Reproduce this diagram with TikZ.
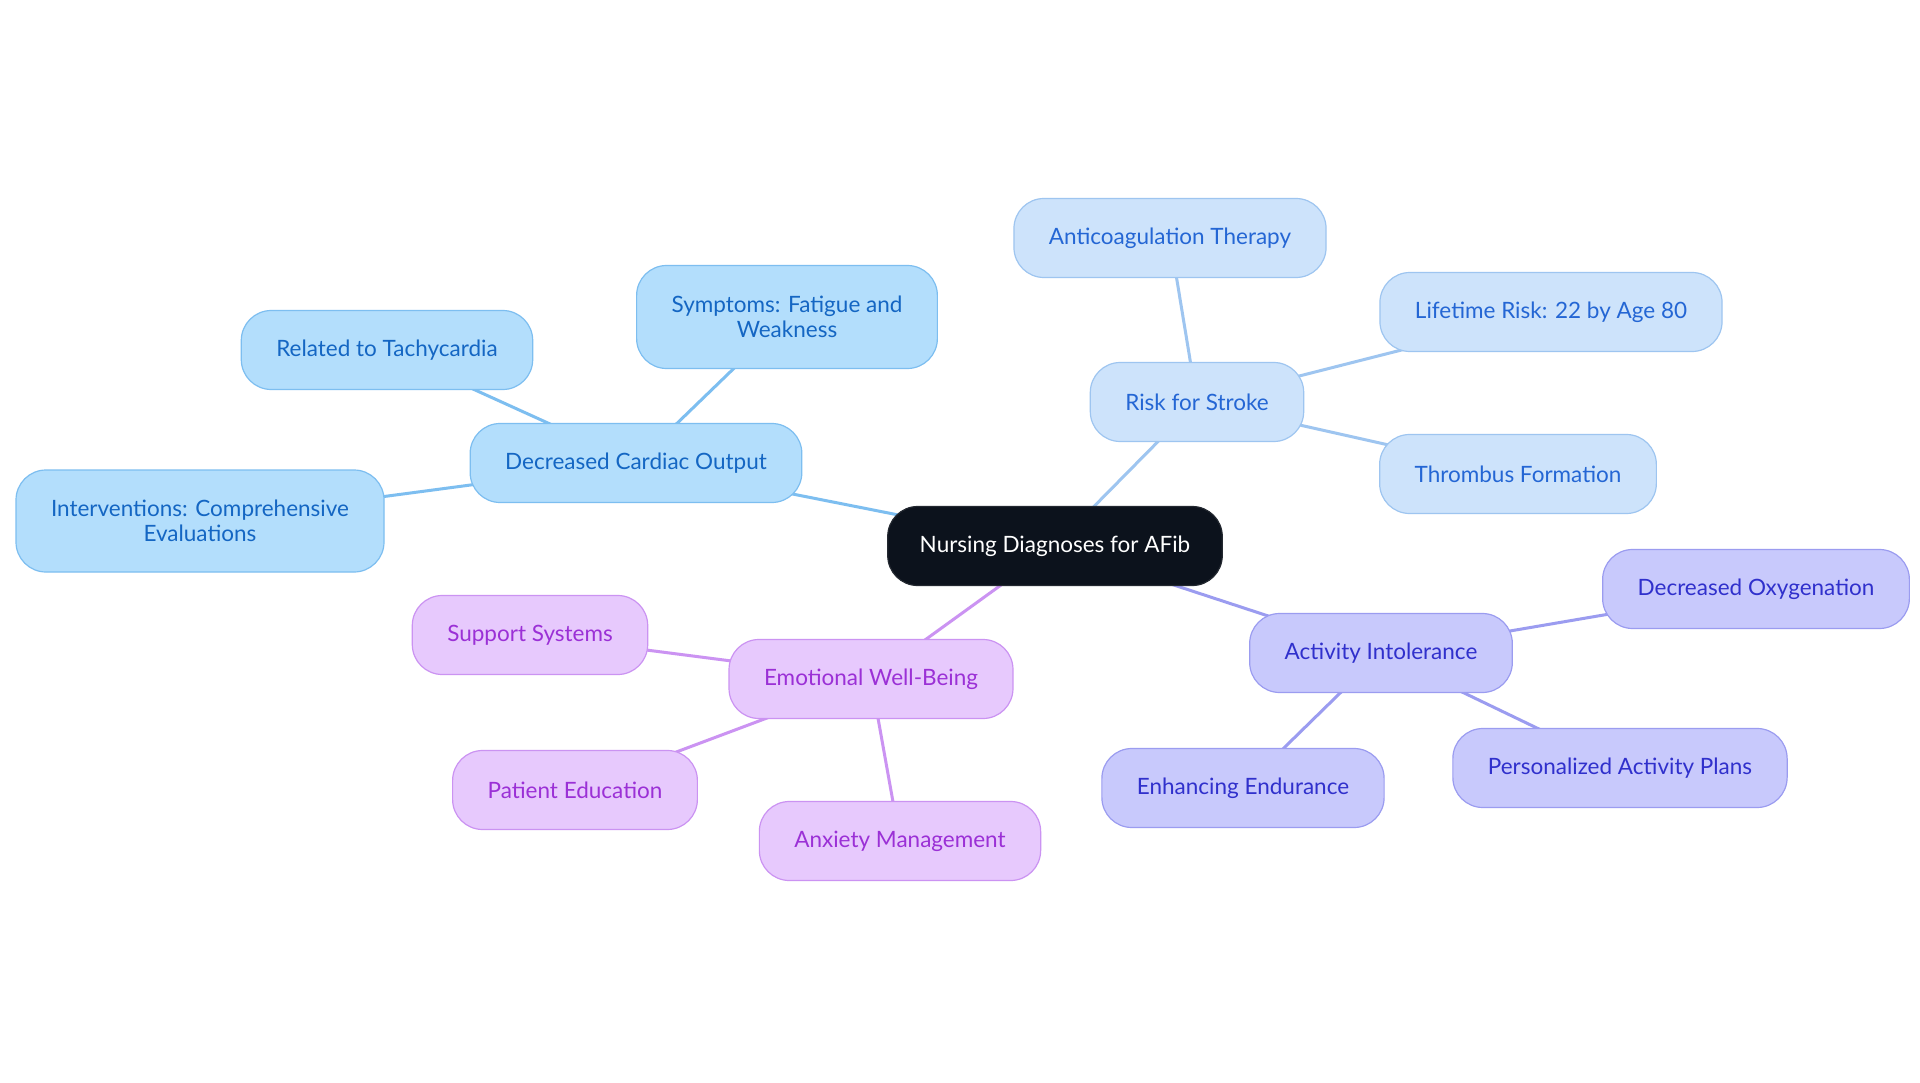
\documentclass[tikz,border=0pt]{standalone}
\usepackage{fontspec}
\setmainfont{Lato}
\usepackage{tikz}
\usetikzlibrary{backgrounds}
\definecolor{rootbg}{HTML}{0C121C}
\definecolor{cardbg}{HTML}{B3DEFC}\definecolor{cardln}{HTML}{7DBEF0}\definecolor{cardtx}{HTML}{1466C3}
\definecolor{strkbg}{HTML}{CDE3FB}\definecolor{strkln}{HTML}{9EC5F0}\definecolor{strktx}{HTML}{2466D4}
\definecolor{actbg}{HTML}{C8C9FC}\definecolor{actln}{HTML}{9B9CF0}\definecolor{acttx}{HTML}{3030CC}
\definecolor{emobg}{HTML}{E7C9FD}\definecolor{emoln}{HTML}{CB93F2}\definecolor{emotx}{HTML}{9B30D6}
\tikzset{
  >=latex,
}
\tikzstyle{every node}=[font=\fontsize{22.5}{25}\selectfont]
\tikzstyle{pill}=[rounded corners=30pt,line width=1.2pt,minimum height=79pt,inner xsep=35pt,align=center]
\tikzstyle{root}=[pill,fill=rootbg,draw=rootbg!80!gray,text=white,inner xsep=32pt]
\tikzstyle{card}=[pill,fill=cardbg,draw=cardln,text=cardtx]
\tikzstyle{strk}=[pill,fill=strkbg,draw=strkln,text=strktx]
\tikzstyle{act}=[pill,fill=actbg,draw=actln,text=acttx]
\tikzstyle{emo}=[pill,fill=emobg,draw=emoln,text=emotx]
\tikzstyle{link}=[line width=3pt]

\begin{document}
\begin{tikzpicture}[x=1pt,y=-1pt]
  \useasboundingbox (0,0) rectangle (1920,1083);
  \node[root] (root) at (1055,546) {Nursing Diagnoses for AFib};
  % cardiac output
  \node[card] (dco) at (636,463) {Decreased Cardiac Output};
  \node[card,minimum height=103pt] (sym) at (787,317) {Symptoms: Fatigue and\\Weakness};
  \node[card] (tachy) at (387,350) {Related to Tachycardia};
  \node[card,minimum height=102pt] (interv) at (200,521) {Interventions: Comprehensive\\Evaluations};
  % stroke
  \node[strk] (stroke) at (1197,402) {Risk for Stroke};
  \node[strk] (anticoag) at (1170,238) {Anticoagulation Therapy};
  \node[strk] (lifetime) at (1551,312) {Lifetime Risk: 22 by Age 80};
  \node[strk] (thromb) at (1518,474) {Thrombus Formation};
  % activity
  \node[act] (activity) at (1381,653) {Activity Intolerance};
  \node[act] (oxy) at (1756,589) {Decreased Oxygenation};
  \node[act] (plans) at (1620,768) {Personalized Activity Plans};
  \node[act] (endur) at (1243,788) {Enhancing Endurance};
  % emotional
  \node[emo] (emot) at (871,679) {Emotional Well-Being};
  \node[emo] (support) at (530,635) {Support Systems};
  \node[emo] (educ) at (575,790) {Patient Education};
  \node[emo] (anxiety) at (900,841) {Anxiety Management};
  \begin{scope}[on background layer]
    \fill[white] (0,0) rectangle (1920,1083);
    \draw[link,cardln] (root.center)--(dco.center) (dco.center)--(sym.center) (dco.center)--(tachy.center) (dco.center)--(interv.center);
    \draw[link,strkln] (root.center)--(stroke.center) (stroke.center)--(anticoag.center) (stroke.center)--(lifetime.center) (stroke.center)--(thromb.center);
    \draw[link,actln] (root.center)--(activity.center) (activity.center)--(oxy.center) (activity.center)--(plans.center) (activity.center)--(endur.center);
    \draw[link,emoln] (root.center)--(emot.center) (emot.center)--(support.center) (emot.center)--(educ.center) (emot.center)--(anxiety.center);
  \end{scope}
\end{tikzpicture}
\end{document}
